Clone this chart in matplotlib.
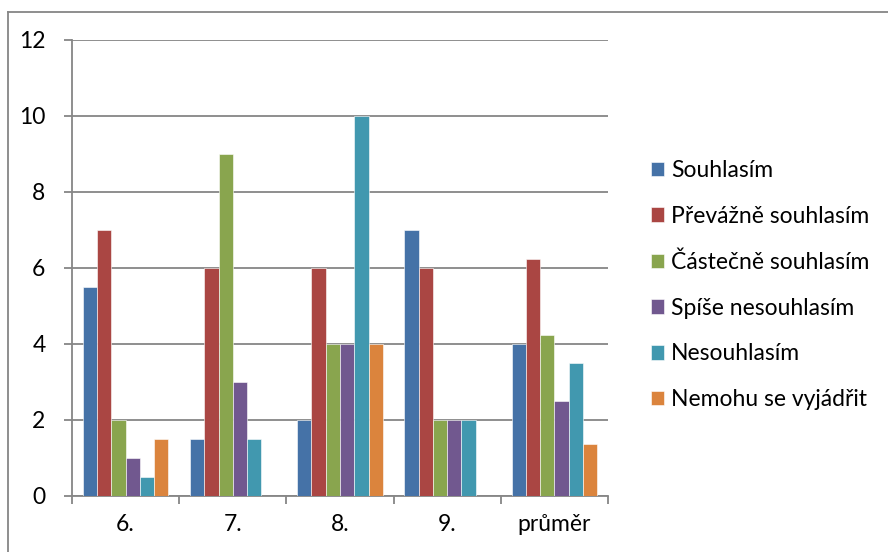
import numpy as np
import matplotlib.pyplot as plt
from matplotlib.lines import Line2D

# data
groups = ['6.', '7.', '8.', '9.', 'průměr']
labels = ['Souhlasím', 'Převážně souhlasím', 'Částečně souhlasím',
          'Spíše nesouhlasím', 'Nesouhlasím', 'Nemohu se vyjádřit']
souhlasim = [5.5, 1.5, 2, 7, 4]
prevazne = [7, 6, 6, 6, 6.25]
castecne = [2, 9, 4, 2, 4.25]
spise_ne = [1, 3, 4, 2, 2.5]
nesouhlasim = [0.5, 1.5, 10, 2, 3.5]
nemohu = [1.5, 0, 4, 0, 1.375]
series = [souhlasim, prevazne, castecne, spise_ne, nesouhlasim, nemohu]
colors = ['#4572A7', '#AA4643', '#89A54E', '#71588F', '#4198AF', '#DB843D']

plt.rcParams['font.family'] = ['Lato', 'DejaVu Sans']

fig = plt.figure(figsize=(8.88, 5.52), dpi=100)
ax = fig.add_axes([72 / 888, 56 / 552, 536 / 888, 456 / 552])

# outer chart border (only top and left edges are inside the picture)
top = 1 - 11.5 / 552
left = 7.5 / 888
fig.lines.append(Line2D([left, 1.0], [top, top], transform=fig.transFigure,
                        color='#868686', linewidth=1.3))
fig.lines.append(Line2D([left, left], [0.0, top], transform=fig.transFigure,
                        color='#868686', linewidth=1.3))

w = 1 / 7.5
x = np.arange(len(groups))
for i, (vals, c) in enumerate(zip(series, colors)):
    ax.bar(x - 2.5 * w + i * w, vals, width=w, color=c, label=labels[i],
           edgecolor='white', linewidth=0.4, zorder=3)

ax.set_xlim(-0.5, len(groups) - 0.5)
ax.set_ylim(0, 12)
ax.set_yticks(range(0, 13, 2))
ax.yaxis.grid(True, color='#868686', linewidth=1.3, zorder=0)
ax.set_xticks(np.arange(-0.5, len(groups), 1))
ax.set_xticklabels([])
ax.set_xticks(x, minor=True)
ax.set_xticklabels(groups, minor=True)
ax.tick_params(axis='x', which='minor', length=0, labelsize=16.5, pad=13)
ax.tick_params(axis='x', which='major', length=6, width=1.3, color='#868686')
ax.tick_params(axis='y', length=6, width=1.3, color='#868686', labelsize=16.5, pad=13)

for s in ['top', 'right']:
    ax.spines[s].set_visible(False)
for s in ['left', 'bottom']:
    ax.spines[s].set_color('#868686')
    ax.spines[s].set_linewidth(1.3)

ax.legend(loc='center left', bbox_to_anchor=(630 / 888, 267 / 552),
          bbox_transform=fig.transFigure, frameon=False, fontsize=16.5,
          handlelength=0.6, handleheight=0.6, handletextpad=0.3,
          labelspacing=1.08)

fig.savefig('out.png', dpi=100)
